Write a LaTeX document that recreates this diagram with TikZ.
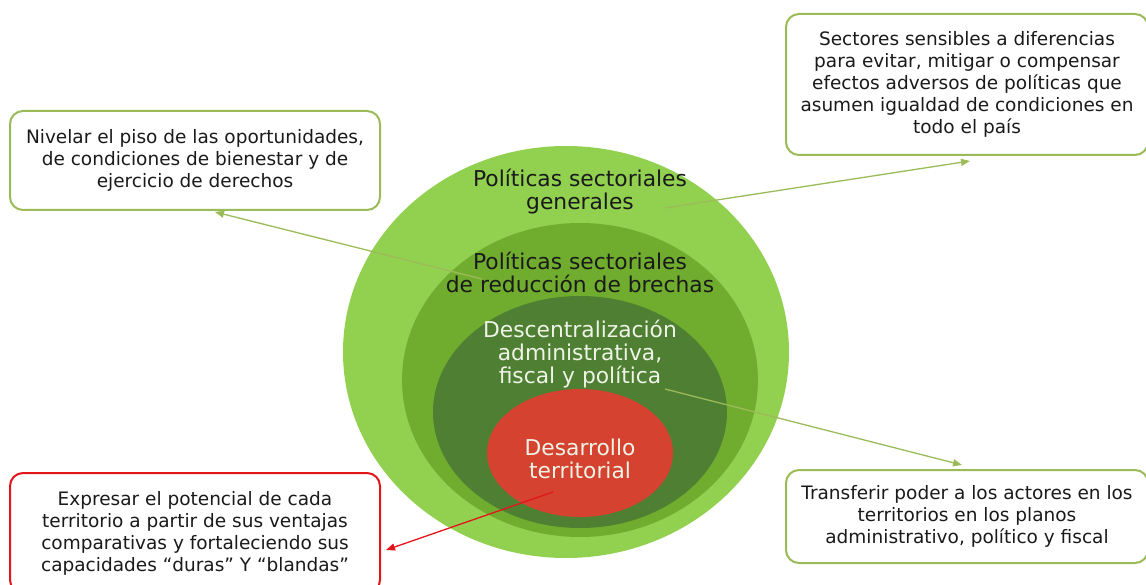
\documentclass[tikz,border=0pt]{standalone}
\usepackage{fontspec}
\setmainfont{DejaVu Sans}
\usetikzlibrary{shapes.geometric,arrows.meta,calc}
\definecolor{lgreen}{HTML}{92D050}
\definecolor{mgreen}{HTML}{70AD2F}
\definecolor{dgreen}{HTML}{4F7F33}
\definecolor{redfill}{HTML}{D5422F}
\definecolor{boxgreen}{HTML}{9BBB59}
\definecolor{boxred}{HTML}{E3151B}
\definecolor{pale}{HTML}{EEF4E6}
\definecolor{txt}{HTML}{1A1A1A}
\tikzset{
  ring/.style={ellipse, inner sep=0pt},
  ringtext/.style={align=center, font=\fontsize{21.8}{23}\selectfont, inner sep=0pt},
  infobox/.style={draw=boxgreen, line width=2pt, rounded corners=13pt, fill=white,
    align=center, text=txt, font=\fontsize{18.5}{22}\selectfont, inner sep=0pt},
  link/.style={draw=boxgreen, line width=1.3pt, -{Triangle[length=9pt,width=7pt]}},
  redlink/.style={draw=boxred, line width=1.3pt, -{Triangle[length=9pt,width=7pt]}}
}
\begin{document}
\begin{tikzpicture}[x=1pt,y=-1pt]
\useasboundingbox (0,0) rectangle (1146,585);
% nested ellipses
\node[ring, fill=lgreen, minimum width=446pt, minimum height=412pt] (e1) at (566,352) {};
\node[ring, fill=mgreen, minimum width=356pt, minimum height=314pt] (e2) at (580,380) {};
\node[ring, fill=dgreen, minimum width=294pt, minimum height=232pt] (e3) at (580,412) {};
\node[ring, fill=redfill, minimum width=186pt, minimum height=128pt] (e4) at (580,453) {};
% ellipse texts
\node[ringtext, text=txt] (t1) at (580,191.5) {Políticas sectoriales\\generales};
\node[ringtext, text=txt] (t2) at (580,272.5) {Políticas sectoriales\\de reducción de brechas};
\node[ringtext, text=pale] (t3) at (580,354.5) {Descentralización\\administrativa,\\fiscal y política};
\node[ringtext, text=pale] (t4) at (580,458.5) {Desarrollo\\territorial};
% boxes
\node[infobox, minimum width=370pt, minimum height=99pt] (b1) at (195,160.5)
  {Nivelar el piso de las oportunidades,\\de condiciones de bienestar y de\\ejercicio de derechos};
\node[infobox, minimum width=362pt, minimum height=141pt] (b2) at (967,84.5)
  {Sectores sensibles a diferencias\\para evitar, mitigar o compensar\\efectos adversos de políticas que\\asumen igualdad de condiciones en\\todo el país};
\node[infobox, minimum width=362pt, minimum height=93pt] (b3) at (967,516.5)
  {Transferir poder a los actores en los\\territorios en los planos\\administrativo, político y fiscal};
\node[infobox, draw=boxred, minimum width=370pt, minimum height=120pt] (b4) at (195,533)
  {Expresar el potencial de cada\\territorio a partir de sus ventajas\\comparativas y fortaleciendo sus\\capacidades “duras” Y “blandas”};
% connector ends
\coordinate (s1) at (482,279);
\coordinate (p1) at (215,212);
\coordinate (s2) at (665,208);
\coordinate (p2) at (970,161);
\coordinate (s3) at (665,389);
\coordinate (p3) at (962,465);
\coordinate (s4) at (553,492);
\coordinate (p4) at (386,550);
\draw[link] (s1) -- (p1);
\draw[link] (s2) -- (p2);
\draw[link] (s3) -- (p3);
\draw[redlink] (s4) -- (p4);
\end{tikzpicture}
\end{document}
